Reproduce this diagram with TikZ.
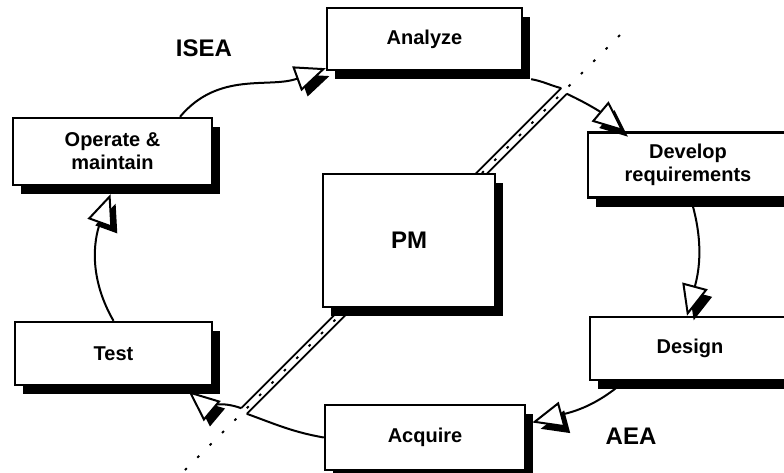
\documentclass[tikz,border=0pt]{standalone}
\usepackage{fontspec}
\setmainfont{Liberation Sans}
\usetikzlibrary{arrows.meta,shadows,calc}

\tikzset{
  stagebox/.style={draw, line width=2.4pt, fill=white, inner sep=0pt, align=center,
    font=\bfseries\fontsize{20}{23}\selectfont,
    drop shadow={shadow xshift=8pt, shadow yshift=-9pt, fill=black, opacity=1}},
  flow/.style={line width=2pt, -{Triangle[length=31pt,width=26pt,fill=white]}},
  flowshadow/.style={line width=2pt, draw opacity=0,
    transform canvas={shift={(6pt,-7pt)}}, -{Triangle[length=31pt,width=26pt,black]}},
  role/.style={font=\bfseries\fontsize{24}{28}\selectfont}
}

\begin{document}
\begin{tikzpicture}[x=1pt,y=1pt]
\useasboundingbox (0,0) rectangle (784,472);
\coordinate (dtop) at (628,445);
\coordinate (dbot) at (185,2);
\draw[line width=2pt, dash pattern=on 2.5pt off 15pt] (dbot) -- (dtop);
\coordinate (wt) at (564,381);
\coordinate (wb) at (244,61);
\coordinate (wtl) at ($(wt)+(-2.8,2.8)$);
\coordinate (wtr) at ($(wt)+(2.8,-2.8)$);
\coordinate (wbl) at ($(wb)+(-2.8,2.8)$);
\coordinate (wbr) at ($(wb)+(2.8,-2.8)$);
\draw[line width=1.8pt] (wtl) -- (wbl);
\draw[line width=1.8pt] (wtr) -- (wbr);

\node[stagebox, minimum width=195pt, minimum height=62pt] (an) at (424.5,433) {Analyze};
\node[stagebox, minimum width=200pt, minimum height=65pt] (dev) at (688,307) {Develop\\requirements};
\node[stagebox, minimum width=200pt, minimum height=63pt] (des) at (690,123.5) {Design};
\node[stagebox, minimum width=200pt, minimum height=65pt] (ac) at (425,34.5) {Acquire};
\node[stagebox, minimum width=197pt, minimum height=63pt] (te) at (113.5,118.5) {Test};
\node[stagebox, minimum width=199pt, minimum height=67pt] (op) at (112.5,320.5) {Operate \&\\maintain};
\node[stagebox, minimum width=172pt, minimum height=133pt, font=\bfseries\fontsize{24}{28}\selectfont] (pm) at (409,231.5) {PM};

\node[role] (isea) at (204,424) {ISEA};
\node[role] (aea) at (631,36) {AEA};

\coordinate (p1) at ([xshift=67.5pt]op.north);
\coordinate (q1) at ([yshift=3pt]an.south west);
\coordinate (q2) at ([xshift=37pt]dev.north west);
\coordinate (p3) at ([xshift=5pt,yshift=-8pt]dev.south);
\coordinate (q3) at ([xshift=-3pt]des.north);
\coordinate (p4) at ([xshift=32pt,yshift=-3pt]des.south west);
\coordinate (q4) at ([xshift=6pt,yshift=15pt]ac.east);
\coordinate (q5) at ([xshift=75pt,yshift=-5pt]te.south);
\coordinate (q6) at ([xshift=-2pt,yshift=-8pt]op.south);
\coordinate (p7) at ([xshift=8pt,yshift=-8pt]an.south east);

\draw[line width=2pt] (p7) to[out=-10,in=165] (wtl);
\draw[line width=2pt] (ac.west) to[out=170,in=-20] (wbr);

\foreach \s/\t/\o/\i in {p1/q1/50/200, wtr/q2/-25/140, p3/q3/-75/75,
  p4/q4/-140/15, wbl/q5/160/-40, te.north/q6/120/-110}
  \draw[flowshadow] (\s) to[out=\o,in=\i] (\t);
\foreach \s/\t/\o/\i in {p1/q1/50/200, wtr/q2/-25/140, p3/q3/-75/75,
  p4/q4/-140/15, wbl/q5/160/-40, te.north/q6/120/-110}
  \draw[flow] (\s) to[out=\o,in=\i] (\t);
\end{tikzpicture}
\end{document}
